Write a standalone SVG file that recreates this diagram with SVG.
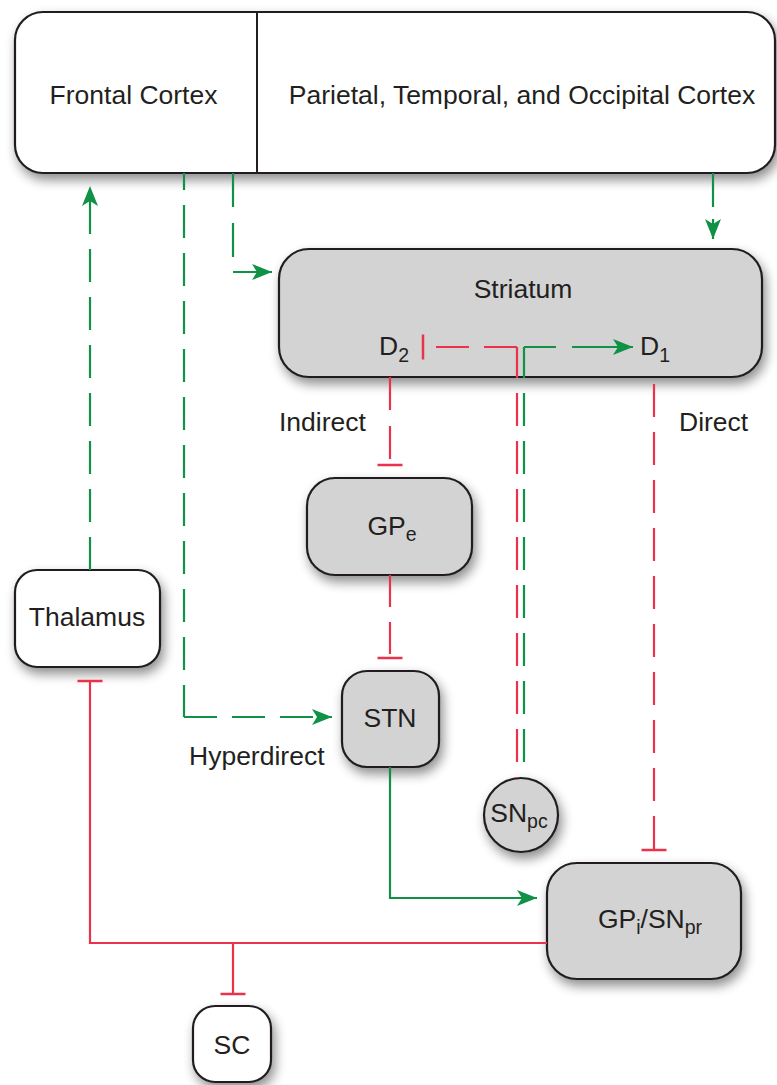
<svg xmlns="http://www.w3.org/2000/svg" width="777" height="1085" viewBox="0 0 777 1085">
<defs>
<filter id="sh" x="-30%" y="-30%" width="170%" height="180%">
<feGaussianBlur in="SourceAlpha" stdDeviation="6"/>
<feOffset dx="3" dy="6"/>
<feComponentTransfer><feFuncA type="linear" slope="0.45"/></feComponentTransfer>
<feMerge><feMergeNode/><feMergeNode in="SourceGraphic"/></feMerge>
</filter>
<marker id="arr" markerUnits="userSpaceOnUse" viewBox="0 0 20 16" refX="20" refY="8" markerWidth="20" markerHeight="16" orient="auto"><path d="M0,0 L20,8 L0,16 L5,8 Z" fill="#109146"/></marker>
<marker id="tee" markerUnits="userSpaceOnUse" viewBox="-2 -13 4 26" refX="0" refY="0" markerWidth="4" markerHeight="26" orient="auto"><path d="M0,-12.5 V12.5" stroke="#e8334a" stroke-width="2.5" fill="none"/></marker>
</defs>
<style>
.box{stroke:#231f20;stroke-width:2.2}
.g{fill:#d3d3d3}
.w{fill:#ffffff}
text{font-family:"Liberation Sans",Arial,Helvetica,sans-serif;font-size:26.5px;fill:#231f20}
.m{text-anchor:middle}
.sub{font-size:19.5px}
.lg{stroke:#109146;stroke-width:2.2;fill:none}
.lr{stroke:#e8334a;stroke-width:2.2;fill:none}
.d{stroke-dasharray:33 15}
</style>
<rect width="777" height="1085" fill="#ffffff"/>
<g id="cortex">
<rect class="box w" x="15" y="12" width="760" height="161" rx="28" filter="url(#sh)"/>
<line x1="257" y1="12" x2="257" y2="173" stroke="#231f20" stroke-width="2"/>
<text class="m" x="133.5" y="104">Frontal Cortex</text>
<text class="m" x="522" y="104">Parietal, Temporal, and Occipital Cortex</text>
</g>
<g id="striatum">
<rect class="box g" x="279" y="249" width="483" height="128" rx="30" filter="url(#sh)"/>
<text class="m" x="523" y="298">Striatum</text>
<text x="379" y="355">D<tspan class="sub" dy="7">2</tspan></text>
<text x="640" y="355">D<tspan class="sub" dy="7">1</tspan></text>
</g>
<g id="gpe">
<rect class="box g" x="307" y="478" width="165" height="97" rx="28" filter="url(#sh)"/>
<text class="m" x="392" y="535">GP<tspan class="sub" dy="6">e</tspan></text>
</g>
<g id="thalamus">
<rect class="box w" x="15" y="570" width="145" height="97" rx="22" filter="url(#sh)"/>
<text class="m" x="87" y="626">Thalamus</text>
</g>
<g id="stn">
<rect class="box g" x="342" y="671" width="97" height="96" rx="25" filter="url(#sh)"/>
<text class="m" x="390" y="727">STN</text>
</g>
<g id="snpc">
<circle class="box g" cx="521" cy="815" r="37" filter="url(#sh)"/>
<text class="m" x="519" y="822">SN<tspan class="sub" dy="6">pc</tspan></text>
</g>
<g id="gpi">
<rect class="box g" x="547" y="863" width="194" height="116" rx="30" filter="url(#sh)"/>
<text class="m" x="650" y="928">GP<tspan class="sub" dy="6">i</tspan><tspan dy="-6">/SN</tspan><tspan class="sub" dy="6">pr</tspan></text>
</g>
<g id="sc">
<rect class="box w" x="193" y="1006" width="78" height="76" rx="22" filter="url(#sh)"/>
<text class="m" x="232" y="1054">SC</text>
</g>
<g id="labels">
<text x="279" y="431">Indirect</text>
<text x="679" y="431">Direct</text>
<text x="189" y="765">Hyperdirect</text>
</g>
<g id="connectors">
<path class="lg d" d="M90,570 V186" marker-end="url(#arr)"/>
<path class="lg d" d="M184,173 V717" style="stroke-dashoffset:16"/>
<path class="lg d" d="M184,717 H332" marker-end="url(#arr)"/>
<path class="lg" d="M233,173 V272" style="stroke-dasharray:34 16"/>
<path class="lg" d="M233,272 H272" marker-end="url(#arr)"/>
<path class="lg" d="M713,173 V239" style="stroke-dasharray:34 12" marker-end="url(#arr)"/>
<path class="lr" d="M390,377 V465" style="stroke-dasharray:33 16" marker-end="url(#tee)"/>
<path class="lr" d="M390,575 V658" style="stroke-dasharray:32 15" marker-end="url(#tee)"/>
<path class="lr d" d="M654,384 V850" marker-end="url(#tee)"/>
<path class="lg" d="M390,767 V898 H537" marker-end="url(#arr)"/>
<path class="lr" d="M547,943 H90 V681" marker-end="url(#tee)"/>
<path class="lr" d="M233,943 V994" marker-end="url(#tee)"/>
<path class="lr d" d="M517,347 V778" style="stroke-dashoffset:2"/>
<path class="lr d" d="M517,347 H423" marker-end="url(#tee)"/>
<path class="lg d" d="M524,347 V778" style="stroke-dashoffset:2"/>
<path class="lg" d="M524,347 H633" style="stroke-dasharray:32 16 100" marker-end="url(#arr)"/>
</g>
</svg>
